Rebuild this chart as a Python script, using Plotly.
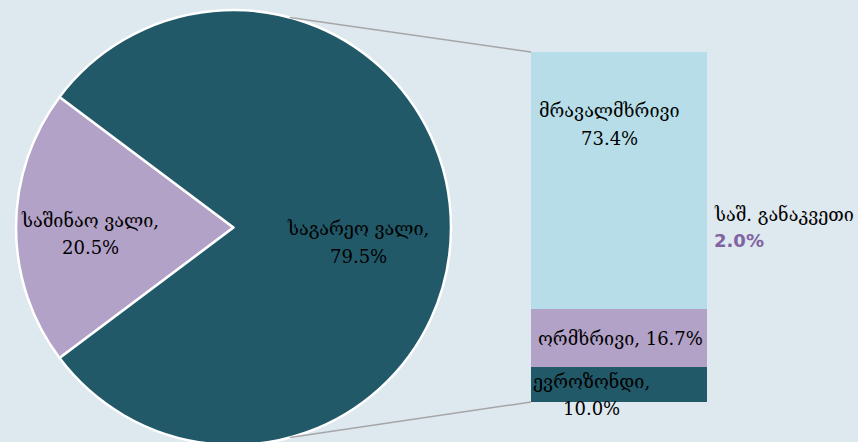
import math
import plotly.graph_objects as go

# ---- data ----
pie_labels = ["საშინაო ვალი", "საგარეო ვალი"]
pie_values = [20.5, 79.5]
bar_labels = ["ევროზონდი", "ორმხრივი", "მრავალმხრივი"]
bar_values = [10.0, 16.7, 73.4]
avg_label = "საშ. განაკვეთი"
avg_value = 2.0

# ---- style ----
W, H = 858, 448          # slightly taller than the window; bottom of the pie is cropped like the original
BG = "#DEE8EF"
TEAL = "#215968"
LAV = "#B3A2C7"
AQUA = "#B7DEE8"
PURPLE = "#8064A2"
FONT = "DejaVu Serif"
FS = 18

pie_colors = [LAV, TEAL]
bar_colors = [TEAL, LAV, AQUA]

# pie geometry (pixels from top-left)
pie_x0, pie_x1 = 16, 451
pie_y0, pie_y1 = 10, 445
r = (pie_x1 - pie_x0) / 2
cx = (pie_x0 + pie_x1) / 2
cy = (pie_y0 + pie_y1) / 2

# bar geometry (pixels)
bx0, bx1 = 531, 707
by_top, by_bot = 52, 402

fig = go.Figure()

first_frac = pie_values[0] / sum(pie_values)
fig.add_trace(go.Pie(
    labels=pie_labels, values=pie_values, sort=False,
    direction="clockwise", rotation=270 - 360 * first_frac / 2,
    marker=dict(colors=pie_colors, line=dict(color="white", width=2.5)),
    textinfo="none", hoverinfo="label+percent", showlegend=False,
    domain=dict(x=[pie_x0 / W, pie_x1 / W], y=[1 - pie_y1 / H, 1 - pie_y0 / H]),
))

for lab, val, col in zip(bar_labels, bar_values, bar_colors):
    fig.add_trace(go.Bar(
        x=[0], y=[val], width=1, name=lab, marker=dict(color=col, line=dict(width=0)),
        showlegend=False, xaxis="x", yaxis="y",
    ))

total = sum(bar_values)
fig.update_layout(
    width=W, height=H, barmode="stack",
    paper_bgcolor=BG, plot_bgcolor="rgba(0,0,0,0)",
    margin=dict(l=0, r=0, t=0, b=0),
    xaxis=dict(domain=[bx0 / W, bx1 / W], range=[-0.5, 0.5], visible=False, fixedrange=True),
    yaxis=dict(domain=[1 - by_bot / H, 1 - by_top / H], range=[0, total], visible=False, fixedrange=True),
    font=dict(family=FONT, size=FS, color="black"),
)

def px(x, y):
    return x / W, 1 - y / H

def ann(x, y, text, color="black", family=FONT, xanchor="center", size=FS):
    ax, ay = px(x, y)
    fig.add_annotation(x=ax, y=ay, xref="paper", yref="paper", text=text, showarrow=False,
                       xanchor=xanchor, yanchor="middle",
                       font=dict(family=family, size=size, color=color))

# pie labels
ann(90, 220, f"{pie_labels[0]},")
ann(90, 247, f"{pie_values[0]:.1f}%")
ann(358, 228, f"{pie_labels[1]},")
ann(358, 256, f"{pie_values[1]:.1f}%")

# bar labels
ann(609, 110, bar_labels[2])
ann(609, 138, f"{bar_values[2]:.1f}%")
ann(620, 338, f"{bar_labels[1]}, {bar_values[1]:.1f}%")
ann(591, 381, f"{bar_labels[0]},")
ann(591, 408, f"{bar_values[0]:.1f}%")

# average rate
ann(712, 214, avg_label, xanchor="left")
ann(712, 240, f"<b>{avg_value:.1f}%</b>", color=PURPLE, family="DejaVu Sans", xanchor="left")

# connector lines from pie edge to bar corners
for ang, by in ((15, by_top), (165, by_bot)):
    a = math.radians(ang)
    x0 = cx + r * math.sin(a)
    y0 = cy - r * math.cos(a)
    fig.add_shape(type="line", xref="paper", yref="paper",
                  x0=x0 / W, y0=1 - y0 / H, x1=bx0 / W, y1=1 - by / H,
                  line=dict(color="#A6A6A6", width=1.5))

fig.write_html("out.html", config={"displayModeBar": False},
               post_script="document.body.style.margin='0';document.body.style.overflow='hidden';")
